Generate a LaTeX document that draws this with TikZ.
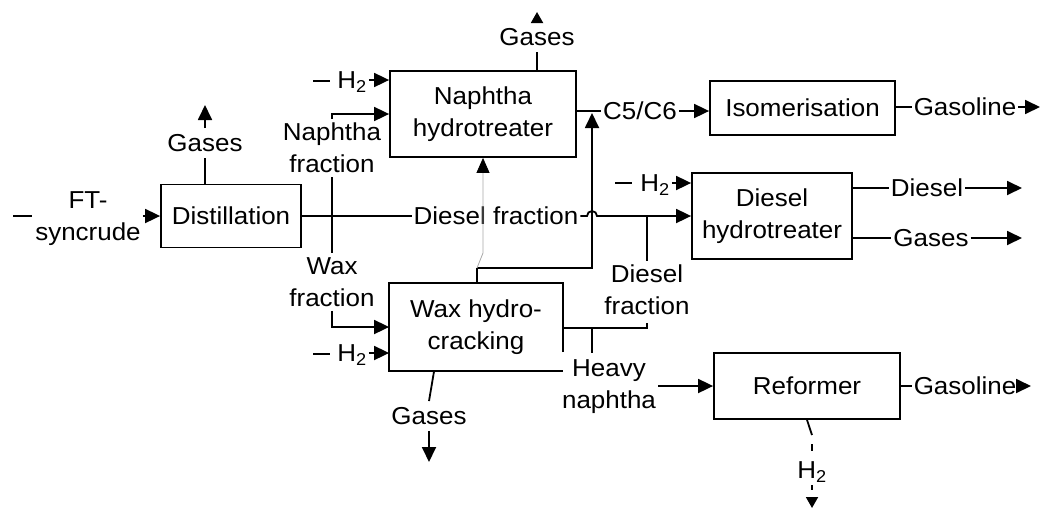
\documentclass[tikz,border=0pt]{standalone}
\usepackage{fontspec}
\setmainfont[FakeStretch=1.06]{Liberation Sans}
\usetikzlibrary{arrows.meta,calc}
\begin{document}
\begin{tikzpicture}[x=1pt,y=-1pt,font=\fontsize{24.5}{32}\selectfont,
  box/.style={draw, line width=1.8pt, inner sep=0pt, align=center},
  lbl/.style={inner xsep=2pt, inner ysep=6pt, text height=17.5pt, text depth=0pt},
  lbl2/.style={inner xsep=2pt, inner ysep=4pt, align=center},
  flow/.style={line width=1.8pt},
  arr/.style={flow, -{Triangle[length=15pt,width=14pt]}},
  smallarr/.style={flow, -{Triangle[length=11pt,width=12pt]}},
  thin/.style={draw=black!35, line width=0.8pt, -{Triangle[length=15pt,width=13pt,color=black,fill=black]}}]
\path[use as bounding box] (0,0) rectangle (1043,509);

% process boxes
\node[box, minimum width=140pt, minimum height=63pt] (dist) at (231,216) {Distillation};
\node[box, minimum width=186pt, minimum height=86pt] (nht) at (483,114) {Naphtha\\hydrotreater};
\node[box, minimum width=185pt, minimum height=54pt] (iso) at (802.5,108) {Isomerisation};
\node[box, minimum width=160pt, minimum height=86pt] (dht) at (772,216) {Diesel\\hydrotreater};
\node[box, draw=none, minimum width=172pt, minimum height=86pt] (whc) at (476,327) {Wax hydro-\\cracking};
\node[box, minimum width=186pt, minimum height=66pt] (ref) at (807,386) {Reformer};
\draw[flow] ([yshift=-69pt]whc.north east) -- (whc.north east) -- (whc.north west) -- (whc.south west) -- (whc.south east);

% feed
\node[lbl2] (ft) at (88,219) {FT-\\syncrude};
\coordinate (ftin) at (13,216);
\draw[flow] (ftin) -- ++(19,0);
\draw[arr] (ft.east |- dist.west) -- (dist.west);

% gases from distillation
\node[lbl] (g1) at (205,143) {Gases};
\coordinate (g1out) at (205,105);
\draw[flow] (g1 |- dist.north) -- (g1.south);
\draw[arr] (g1.north) -- (g1out);

% naphtha hydrotreater
\node[lbl] (g2) at (537,37) {Gases};
\coordinate (g2out) at (537,12);
\draw[flow] (g2 |- nht.north) -- (g2.south);
\draw[smallarr] (g2.north) -- (g2out);
\node[lbl] (h1) at (352,80) {H\textsubscript{2}};
\coordinate (h1in) at (313,81);
\draw[flow] (h1in) -- ++(17,0);
\draw[arr] (h1.east) -- (nht.west |- h1);

% main line
\coordinate (j1) at (332,216);
\node[lbl2] (nf) at (332,148) {Naphtha\\fraction};
\draw[flow] (j1) -- (nf.south);
\draw[arr] (nf.north) |- (nht.west);
\node[lbl2] (wf) at (332,282) {Wax\\fraction};
\draw[flow] (j1) -- (wf.north);
\draw[arr] (wf.south) |- (whc.west);
\node[lbl] (df) at (496,216) {Diesel fraction};
\coordinate (hop) at (592,216);
\draw[flow] (dist.east) -- (df.west);
\draw[arr] (df.east) -- ([xshift=-5pt]hop) arc[start angle=180,end angle=360,radius=5] -- (dht.west);

% wax hydrocracking
\node[lbl] (h2) at (352,353) {H\textsubscript{2}};
\coordinate (h2in) at (313,354);
\draw[flow] (h2in) -- ++(17,0);
\draw[arr] (h2.east) -- (whc.west |- h2);
\node[lbl] (g3) at (429,416) {Gases};
\coordinate (g3out) at (429,462);
\draw[flow] ($(whc.south west)+(45,0)$) -- (g3.north);
\draw[arr] (g3.south) -- (g3out);
\coordinate (j4) at (477,268);
\coordinate (c56j) at (592,113);
\coordinate (g4) at (483,253);
\draw[flow] (j4 |- whc.north) -- (j4);
\draw[arr] (j4) -| (c56j);
\draw[thin] (j4) -- (g4) -- (nht.south);

% C5/C6 and isomerisation
\node[lbl] (c56) at (640,111) {C5/C6};
\draw[flow] (nht.east |- c56) -- (c56.west);
\draw[arr] (c56.east) -- (iso.west |- c56);
\node[lbl] (gas1) at (965,107) {Gasoline};
\coordinate (gas1out) at (1040,107);
\draw[flow] (iso.east |- gas1) -- (gas1.west);
\draw[arr] (gas1.east) -- (gas1out);

% diesel hydrotreater
\node[lbl] (h3) at (655,183) {H\textsubscript{2}};
\coordinate (h3in) at (615,183);
\draw[flow] (h3in) -- ++(17,0);
\draw[arr] (h3.east) -- (dht.west |- h3);
\coordinate (j3) at (647,216);
\node[lbl2] (dfr) at (647,290) {Diesel\\fraction};
\draw[flow] (j3) -- (dfr.north);
\coordinate (j6) at (592,328);
\coordinate (j7) at (647,328);
\coordinate (hv) at (592,353);
\draw[flow] (whc.east |- j6) -- (j7) -- ++(0,-5);
\draw[flow] (j6) -- (hv);
\node[lbl] (dsl) at (927,188) {Diesel};
\coordinate (dslout) at (1022,188);
\draw[flow] (dht.east |- dsl) -- (dsl.west);
\draw[arr] (dsl.east) -- (dslout);
\node[lbl] (g5) at (931,238) {Gases};
\coordinate (g5out) at (1022,238);
\draw[flow] (dht.east |- g5) -- (g5.west);
\draw[arr] (g5.east) -- (g5out);

% reformer
\node[lbl2] (hn) at (609,387) {Heavy\\naphtha};
\draw[arr] (hn.east |- ref.west) -- (ref.west);
\node[lbl] (gas2) at (965,386) {Gasoline};
\coordinate (gas2out) at (1031,386);
\draw[flow] (ref.east) -- (gas2.west);
\draw[arr] (gas2.east) -- (gas2out);
\coordinate (r1) at (812,435);
\node[lbl] (h4) at (812,470) {H\textsubscript{2}};
\coordinate (h4out) at (812,508);
\draw[flow] (ref.south) -- (r1);
\draw[flow, dash pattern=on 0pt off 9pt on 7pt off 40pt] (r1) -- (h4.north);
\draw[smallarr, dash pattern=on 5pt off 10pt] (h4.south) -- (h4out);
\end{tikzpicture}
\end{document}
